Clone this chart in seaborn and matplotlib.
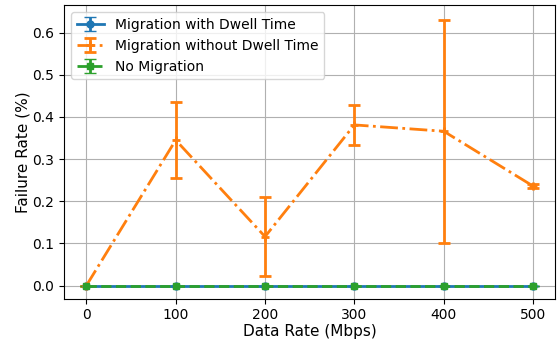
import matplotlib
matplotlib.use("Agg")
import matplotlib.pyplot as plt
import seaborn as sns
import numpy as np

data_rates = [0, 100, 200, 300, 400, 500]
with_dwell = [0, 0, 0, 0, 0, 0]
with_dwell_err = [0, 0, 0, 0, 0, 0]
without_dwell = [0.0, 0.345, 0.116, 0.381, 0.366, 0.236]
without_dwell_err = [0.0, 0.091, 0.094, 0.047, 0.264, 0.005]
no_migration = [0, 0, 0, 0, 0, 0]
no_migration_err = [0, 0, 0, 0, 0, 0]

plt.style.use("default")
plt.rcParams['font.family'] = ['DejaVu Sans']
pal = sns.color_palette("tab10")

fig, ax = plt.subplots(figsize=(5.57, 3.46), dpi=100)
ax.errorbar(data_rates, with_dwell, yerr=with_dwell_err, fmt='-o', color=pal[0],
            capsize=4, linewidth=2, elinewidth=2, markersize=5, label="Migration with Dwell Time")
ax.errorbar(data_rates, without_dwell, yerr=without_dwell_err, fmt='-.+', color=pal[1],
            capsize=4, linewidth=2, elinewidth=2, markersize=6, markeredgewidth=2,
            label="Migration without Dwell Time")
ax.errorbar(data_rates, no_migration, yerr=no_migration_err, fmt='--s', color=pal[2],
            capsize=4, linewidth=2, elinewidth=2, markersize=5, label="No Migration")
ax.set_xlabel("Data Rate (Mbps)", fontsize=11, labelpad=1)
ax.set_ylabel("Failure Rate (%)", fontsize=11, labelpad=1)
ax.set_xticks([0, 100, 200, 300, 400, 500])
ax.set_yticks([0.0, 0.1, 0.2, 0.3, 0.4, 0.5, 0.6])
ax.tick_params(labelsize=10)
ax.set_ylim(-0.031, 0.665)
ax.grid(True)
ax.legend(loc='upper left', fontsize=10)
fig.subplots_adjust(left=0.115, right=0.997, top=0.985, bottom=0.137)
fig.savefig("out.png", dpi=100)
